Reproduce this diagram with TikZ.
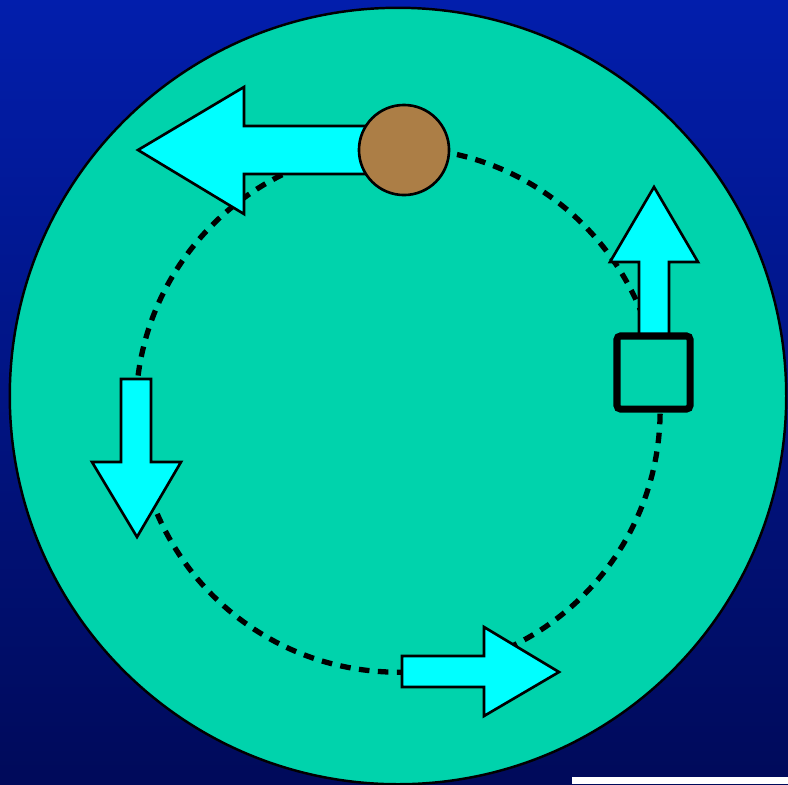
\documentclass[tikz,border=0pt]{standalone}
\definecolor{skytop}{RGB}{2,30,172}
\definecolor{skybot}{RGB}{0,10,90}
\definecolor{pool}{RGB}{0,211,172}
\definecolor{flow}{RGB}{0,255,255}
\definecolor{clay}{RGB}{172,126,70}
\usetikzlibrary{calc}

\tikzset{
  arrowbody/.style={draw=black, fill=flow, line width=0.75pt, line join=miter},
  orbit/.style={black, line width=1.5pt, dash pattern=on 3pt off 2.4pt}
}

\begin{document}
\begin{tikzpicture}[x=0.01cm,y=-0.01cm]
  \useasboundingbox (0,0) rectangle (788,784);
  \shade[top color=skytop,bottom color=skybot] (0,0) rectangle (788,784);
  \fill[white] (572,777) rectangle (788,784);
  % outer disc and path
  \draw[line width=0.7pt, fill=pool] (398,396) circle[radius=3.88cm];
  \draw[orbit] (398,410) circle[radius=2.62cm];
  % arrows
  \draw[arrowbody] (380,126) -- (244,126) -- (244,87) -- (138,150)
    -- (244,214) -- (244,174) -- (380,174) -- cycle;
  \draw[arrowbody] (639,345) -- (639,262) -- (610,262) -- (654,187)
    -- (698,262) -- (669,262) -- (669,345) -- cycle;
  \draw[arrowbody] (121,379) -- (151,379) -- (151,462) -- (181,462)
    -- (137,537) -- (92,462) -- (121,462) -- cycle;
  \draw[arrowbody] (402,656) -- (484,656) -- (484,627) -- (559,672)
    -- (484,716) -- (484,687) -- (402,687) -- cycle;
  % particle and probe
  \node[circle, draw=black, fill=clay, line width=0.75pt, minimum size=0.9cm,
    inner sep=0pt] (ball) at (404,150) {};
  \node[draw=black, fill=pool, line width=2pt, minimum size=0.73cm,
    inner sep=0pt, rounded corners=1pt] (box) at (653.5,372.5) {};
\end{tikzpicture}
\end{document}
